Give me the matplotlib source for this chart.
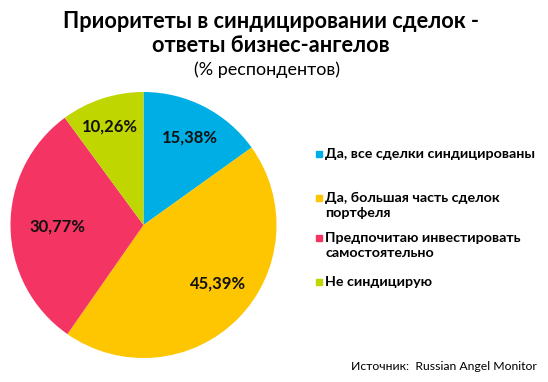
import matplotlib.pyplot as plt
from matplotlib.patches import Rectangle

plt.rcParams['font.family'] = ['Lato', 'DejaVu Sans']

# data
categories = [
    "Да, все сделки синдицированы",
    "Да, большая часть сделок\nпортфеля",
    "Предпочитаю инвестировать\nсамостоятельно",
    "Не синдицирую",
]
shares = [15.38, 45.39, 30.77, 10.26]
colors = ["#00aee6", "#fdc600", "#f43563", "#bfd600"]
label_pos = [(0.35, 0.66), (0.56, -0.44), (-0.65, -0.015), (-0.25, 0.74)]

fig = plt.figure(figsize=(5.48, 3.82), dpi=100)
W, H = 548, 382

""" pie """
cx, cy, r = 143.5, 225, 133
ax = fig.add_axes([(cx - r) / W, (H - cy - r) / H, 2 * r / W, 2 * r / H])
wedges, _ = ax.pie(shares, colors=colors, startangle=90, counterclock=False)
ax.set_xlim(-1, 1)
ax.set_ylim(-1, 1)
ax.set_aspect("auto")
for v, (x, y) in zip(shares, label_pos):
    ax.text(x, y, f"{v:.2f}%".replace(".", ","), ha="center", va="center",
            fontsize=12, fontweight="bold", color="#111111")

""" title """
fig.text(271 / W, 1 - 21 / H, "Приоритеты в синдицировании сделок -",
         ha="center", va="center", fontsize=15.7, fontweight="bold")
fig.text(271 / W, 1 - 46 / H, "ответы бизнес-ангелов",
         ha="center", va="center", fontsize=15.7, fontweight="bold")
fig.text(267 / W, 1 - 70 / H, "(% респондентов)",
         ha="center", va="center", fontsize=13)

""" legend """
leg_y = [156, 200, 240, 284]
for lab, c, y in zip(categories, colors, leg_y):
    fig.add_artist(Rectangle((316 / W, 1 - (y + 1) / H), 6 / W, 6 / H,
                             transform=fig.transFigure, color=c))
    fig.text(325 / W, 1 - (y - 8) / H, lab, ha="left", va="top",
             fontsize=10.3, fontweight="bold", linespacing=1.3)

""" source """
fig.text(537 / W, 1 - 366 / H, "Источник:  Russian Angel Monitor",
         ha="right", va="center", fontsize=8.8)

fig.savefig("out.png", dpi=100)
